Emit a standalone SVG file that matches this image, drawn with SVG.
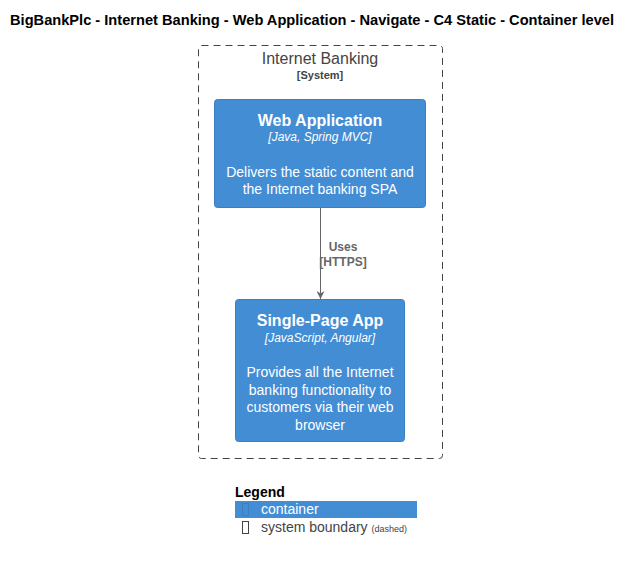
<svg xmlns="http://www.w3.org/2000/svg" width="632" height="561" viewBox="0 0 632 561">
<style>
text{font-family:"Liberation Sans",Arial,sans-serif}
.box{fill:#438DD5;stroke:#3C7FC0;stroke-width:1}
.t{fill:#FFFFFF;font-size:16px;font-weight:bold;text-anchor:middle}
.tech{fill:#FFFFFF;font-size:12px;font-style:italic;text-anchor:middle}
.d{fill:#FFFFFF;font-size:14px;text-anchor:middle}
.lbl{fill:#666666;font-size:12px;font-weight:bold;text-anchor:middle}
</style>
<defs>
<marker id="arr" viewBox="0 0 10 10" refX="10" refY="5" markerWidth="8" markerHeight="8" markerUnits="userSpaceOnUse" orient="auto">
<path d="M0,0 L10,5 L0,10 L3,5 Z" fill="#666666"/>
</marker>
</defs>
<rect width="632" height="561" fill="#FFFFFF"/>
<text x="10" y="25" font-size="14" font-weight="bold" fill="#000000" textLength="604" lengthAdjust="spacingAndGlyphs">BigBankPlc - Internet Banking - Web Application - Navigate - C4 Static - Container level</text>
<g id="internet-banking">
<rect x="198.5" y="45.5" width="244" height="413" rx="3" fill="none" stroke="#444444" stroke-dasharray="7,5"/>
<text x="320" y="64" font-size="16" text-anchor="middle" fill="#444444">Internet Banking</text>
<text x="320" y="79" font-size="11" font-weight="bold" text-anchor="middle" fill="#444444">[System]</text>
</g>
<g id="web-application">
<rect class="box" x="214.5" y="99.5" width="211" height="108" rx="3"/>
<text class="t" x="320" y="126">Web Application</text>
<text class="tech" x="320" y="141">[Java, Spring MVC]</text>
<text class="d" x="320" y="177">Delivers the static content and</text>
<text class="d" x="320" y="194">the Internet banking SPA</text>
</g>
<g id="single-page-app">
<rect class="box" x="235.5" y="299.5" width="169" height="142" rx="3"/>
<text class="t" x="320" y="326">Single-Page App</text>
<text class="tech" x="320" y="342">[JavaScript, Angular]</text>
<text class="d" x="320" y="377">Provides all the Internet</text>
<text class="d" x="320" y="395">banking functionality to</text>
<text class="d" x="320" y="412">customers via their web</text>
<text class="d" x="320" y="430">browser</text>
</g>
<g id="connectors">
<line x1="320.5" y1="208" x2="320.5" y2="299" stroke="#666666" stroke-width="1" marker-end="url(#arr)"/>
<text class="lbl" x="343" y="251">Uses</text>
<text class="lbl" x="343" y="266">[HTTPS]</text>
</g>
<g id="legend">
<text x="235" y="497" font-size="14" font-weight="bold" fill="#000000">Legend</text>
<rect x="235" y="501" width="182" height="17" fill="#438DD5"/>
<rect x="242.5" y="503.5" width="6" height="12" fill="none" stroke="#3C7FC0"/>
<text x="261" y="514" font-size="14" fill="#FFFFFF">container</text>
<rect x="242.5" y="521.5" width="6" height="12" fill="none" stroke="#444444"/>
<text x="261" y="532" font-size="14" fill="#444444">system boundary <tspan font-size="9">(dashed)</tspan></text>
</g>
</svg>
